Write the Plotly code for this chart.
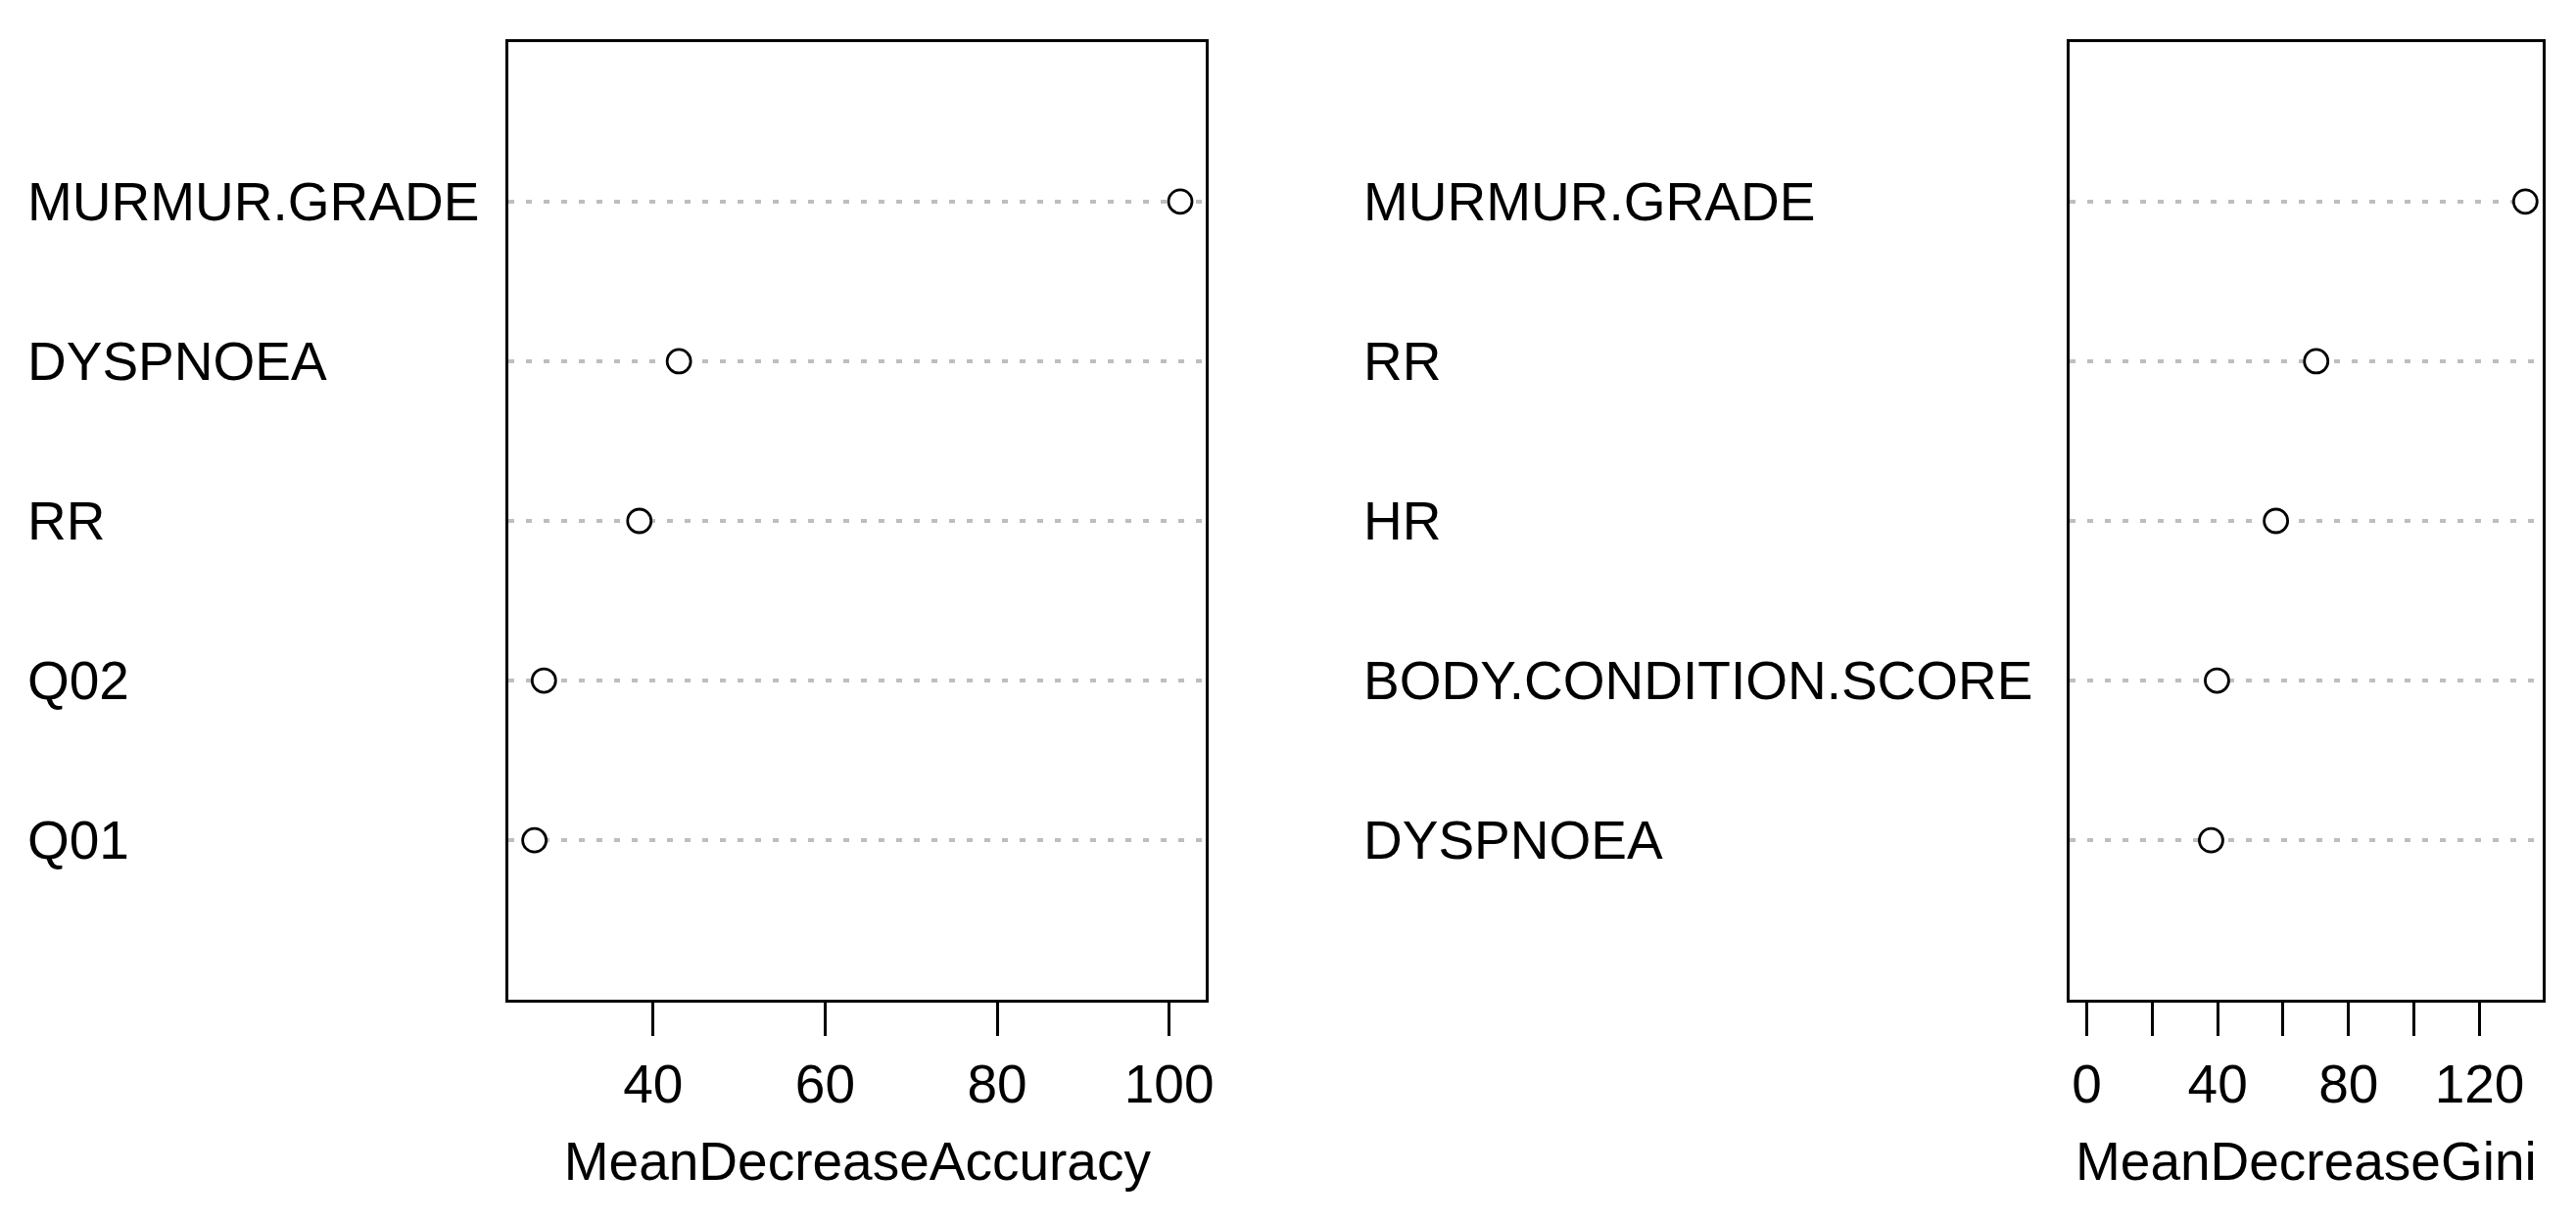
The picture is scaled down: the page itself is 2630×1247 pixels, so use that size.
import plotly.graph_objects as go

# ---- data (bottom to top, as in R dotchart) ----
acc_vars = ["Q01", "Q02", "RR", "DYSPNOEA", "MURMUR.GRADE"]
acc_vals = [26.2, 27.3, 38.4, 43.0, 101.3]

gini_vars = ["DYSPNOEA", "BODY.CONDITION.SCORE", "HR", "RR", "MURMUR.GRADE"]
gini_vals = [38.0, 39.8, 57.8, 70.1, 134.0]

acc_ticks = [40, 60, 80, 100]
acc_ticktext = ["40", "60", "80", "100"]
gini_ticks = [0, 20, 40, 60, 80, 100, 120]
gini_ticktext = ["0", "", "40", "", "80", "", "120"]

acc_title = "MeanDecreaseAccuracy"
gini_title = "MeanDecreaseGini"

# R dotchart style limits (4% extension); Gini starts at 0 like varImpPlot
acc_lo, acc_hi = min(acc_vals), max(acc_vals)
acc_pad = 0.04 * (acc_hi - acc_lo)
acc_range = [acc_lo - acc_pad, acc_hi + acc_pad]
gini_lo, gini_hi = 0, max(gini_vals)
gini_pad = 0.04 * (gini_hi - gini_lo)
gini_range = [gini_lo - gini_pad, gini_hi + gini_pad]

FONT = "Liberation Sans, Arial, Helvetica, sans-serif"
FS = 55
OFF = 8  # default browser body margin
W, H = 2630 - 2 * OFF, 1247 - 2 * OFF
SX = 0.99678  # observed horizontal page scaling


def px_x(v):
    return ((v - OFF) / SX) / W


def px_y(v):
    return 1 - (v - OFF) / H


fig = go.Figure()

marker = dict(size=24, color="white", line=dict(color="black", width=2.8), symbol="circle")

ypos = list(range(1, len(acc_vars) + 1))
fig.add_trace(go.Scatter(x=acc_vals, y=ypos, mode="markers", marker=marker,
                         xaxis="x", yaxis="y", showlegend=False, cliponaxis=False,
                         hoverinfo="x"))
fig.add_trace(go.Scatter(x=gini_vals, y=ypos, mode="markers", marker=marker,
                         xaxis="x2", yaxis="y2", showlegend=False, cliponaxis=False,
                         hoverinfo="x"))

xcommon = dict(showline=True, linecolor="black", linewidth=3, mirror=True,
               ticks="outside", ticklen=34, tickwidth=3, tickcolor="black",
               showgrid=False, zeroline=False,
               tickfont=dict(family=FONT, size=FS, color="black"),
               ticklabelstandoff=2)
ycommon = dict(showline=True, linecolor="black", linewidth=3, mirror=True,
               range=[0, len(acc_vars) + 1], tickvals=ypos, showticklabels=False,
               ticks="", showgrid=True, gridcolor="#bebebe", gridwidth=4,
               griddash="6px,12px", zeroline=False, fixedrange=True)

y_dom = [px_y(1022.7 - 1.5), px_y(41.3 + 1.5)]
fig.update_layout(
    width=W, height=H,
    margin=dict(l=0, r=0, t=0, b=0),
    paper_bgcolor="white", plot_bgcolor="white",
    font=dict(family=FONT, size=FS, color="black"),
    xaxis=dict(domain=[px_x(517.7 + 1.5), px_x(1232.7 - 1.5)], range=acc_range,
               tickvals=acc_ticks, ticktext=acc_ticktext,
               title=dict(text=acc_title, font=dict(family=FONT, size=FS), standoff=30),
               anchor="y", **xcommon),
    yaxis=dict(domain=y_dom, anchor="x", **ycommon),
    xaxis2=dict(domain=[px_x(2110.7 + 1.5), px_x(2597.3 - 1.5)], range=gini_range,
                tickvals=gini_ticks, ticktext=gini_ticktext,
                title=dict(text=gini_title, font=dict(family=FONT, size=FS), standoff=30),
                anchor="y2", **xcommon),
    yaxis2=dict(domain=y_dom, anchor="x2", **ycommon),
)

for v, yv in zip(acc_vars, ypos):
    fig.add_annotation(x=px_x(26), xref="paper", y=yv, yref="y", text=v,
                       showarrow=False, xanchor="left", yanchor="middle",
                       font=dict(family=FONT, size=FS, color="black"))
for v, yv in zip(gini_vars, ypos):
    fig.add_annotation(x=px_x(1390), xref="paper", y=yv, yref="y2", text=v,
                       showarrow=False, xanchor="left", yanchor="middle",
                       font=dict(family=FONT, size=FS, color="black"))

fig.write_html("out.html")
